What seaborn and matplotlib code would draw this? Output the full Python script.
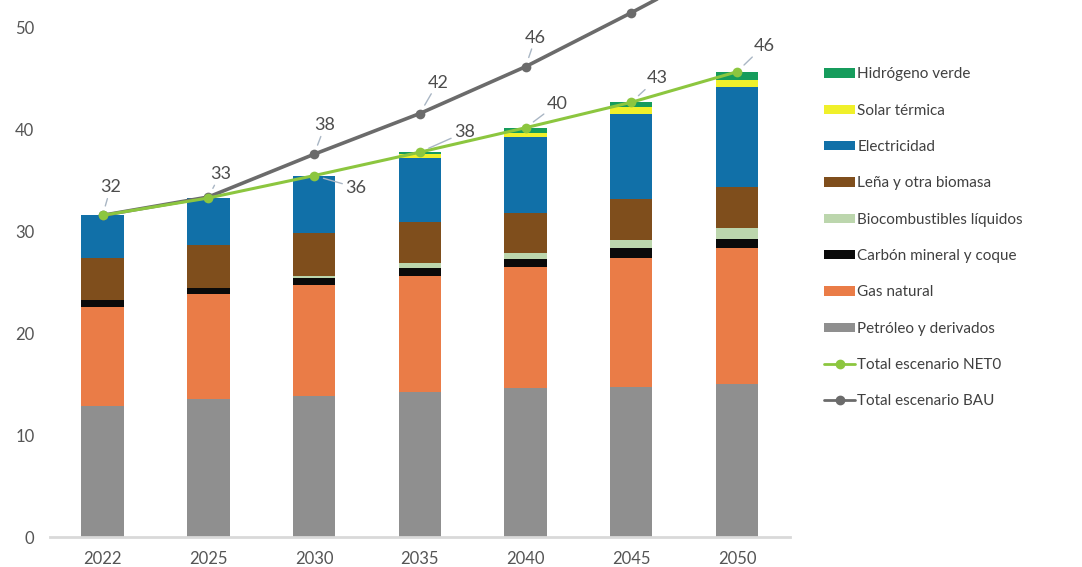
import numpy as np
import pandas as pd
import matplotlib
matplotlib.use('Agg')
import matplotlib.pyplot as plt
from matplotlib.patches import Patch
from matplotlib.lines import Line2D
import seaborn as sns

sns.set_theme(style='white')
plt.rcParams['font.family'] = ['Lato', 'DejaVu Sans']

years = ['2022', '2025', '2030', '2035', '2040', '2045', '2050']

# capas de la barra (de abajo hacia arriba), escenario NET0
petroleo = [12.9, 13.6, 13.9, 14.2, 14.6, 14.7, 15.0]
gas_natural = [9.7, 10.3, 10.9, 11.4, 11.9, 12.7, 13.4]
carbon = [0.7, 0.6, 0.6, 0.8, 0.8, 1.0, 0.9]
biocombustibles = [0.0, 0.0, 0.2, 0.5, 0.6, 0.8, 1.1]
lena = [4.1, 4.2, 4.3, 4.0, 3.9, 4.0, 4.0]
electricidad = [4.2, 4.6, 5.6, 6.3, 7.5, 8.4, 9.8]
solar = [0.0, 0.0, 0.0, 0.4, 0.4, 0.6, 0.7]
hidrogeno = [0.0, 0.0, 0.0, 0.2, 0.5, 0.5, 0.8]

bau_total = [31.6, 33.4, 37.6, 41.6, 46.2, 51.5, 57.0]

layer_names = ['Petróleo y derivados', 'Gas natural', 'Carbón mineral y coque',
               'Biocombustibles líquidos', 'Leña y otra biomasa', 'Electricidad',
               'Solar térmica', 'Hidrógeno verde']
layers = [petroleo, gas_natural, carbon, biocombustibles, lena, electricidad, solar, hidrogeno]
colors = ['#8f8f8f', '#ea7c47', '#0a0a0a', '#bcd6ad', '#7f4e1c', '#1170a8', '#f0f02a', '#169c5c']

cum = np.round(np.cumsum(np.array(layers), axis=0), 1)
net0_total = cum[-1]

fig = plt.figure(figsize=(10.82, 5.67), dpi=100)
ax = fig.add_axes([0.046, 0.0529, 0.684, 0.9471])

# stacked bars: draw cumulative heights from the top layer down
for i in range(len(layers) - 1, -1, -1):
    df = pd.DataFrame({'year': years, 'value': cum[i]})
    sns.barplot(data=df, x='year', y='value', color=colors[i], saturation=1,
                width=0.4, ax=ax, linewidth=0, order=years)

lines_df = pd.DataFrame({'year': years * 2,
                         'value': list(bau_total) + list(net0_total),
                         'serie': ['BAU'] * 7 + ['NET0'] * 7})
sns.lineplot(data=lines_df[lines_df.serie == 'BAU'], x='year', y='value', color='#6b6b6b',
             linewidth=2.6, marker='o', markersize=7, markeredgewidth=0, ax=ax)
sns.lineplot(data=lines_df[lines_df.serie == 'NET0'], x='year', y='value', color='#8cc63f',
             linewidth=2.2, marker='o', markersize=7, markeredgewidth=0, ax=ax)

def fmt(v):
    return str(int(np.floor(v + 0.5)))

ymax = 52.75
lead = dict(arrowstyle='-', color='#a9b6c4', lw=1.0, shrinkA=0, shrinkB=7)
bau_off = [(8, 28), (12, 23), (11, 29), (18, 31), (10, 29), (10, 29), (10, 29)]
for i, v in enumerate(bau_total):
    if v > 50:
        continue  # fuera del área visible
    ax.annotate(fmt(v), xy=(i, v), xytext=bau_off[i], textcoords='offset pixels',
                ha='center', va='center', fontsize=13, color='#4d4d4d',
                arrowprops=lead)

net_off = [None, None, (42, -12), (45, 20), (32, 24), (26, 24), (27, 26)]
for i, v in enumerate(net0_total):
    if net_off[i] is None:
        continue
    ax.annotate(fmt(v), xy=(i, v), xytext=net_off[i], textcoords='offset pixels',
                ha='center', va='center', fontsize=13, color='#4d4d4d',
                arrowprops=lead)

ax.set_xlim(-0.5, 6.5)
ax.set_ylim(0, ymax)
ax.set_yticks([0, 10, 20, 30, 40, 50])
ax.set_xlabel('')
ax.set_ylabel('')
ax.tick_params(axis='both', labelsize=12, colors='#555555', length=0)
ax.tick_params(axis='x', pad=10)
ax.tick_params(axis='y', pad=11)
for s in ['top', 'right', 'left']:
    ax.spines[s].set_visible(False)
ax.spines['bottom'].set_color('#d9d9d9')
ax.spines['bottom'].set_linewidth(2)

handles = [Patch(facecolor=colors[i], edgecolor='none') for i in range(len(layers) - 1, -1, -1)]
labels = layer_names[::-1]
handles += [Line2D([], [], color='#8cc63f', lw=2, marker='o', markersize=6),
            Line2D([], [], color='#6b6b6b', lw=2, marker='o', markersize=6)]
labels += ['Total escenario NET0', 'Total escenario BAU']
fig.legend(handles, labels, loc='upper left', bbox_to_anchor=(0.762, 0.881),
           frameon=False, fontsize=11, labelspacing=1.46, handlelength=2.0,
           handleheight=0.55, handletextpad=0.15, borderpad=0, borderaxespad=0,
           labelcolor='#404040')

fig.savefig('out.png', dpi=100)
